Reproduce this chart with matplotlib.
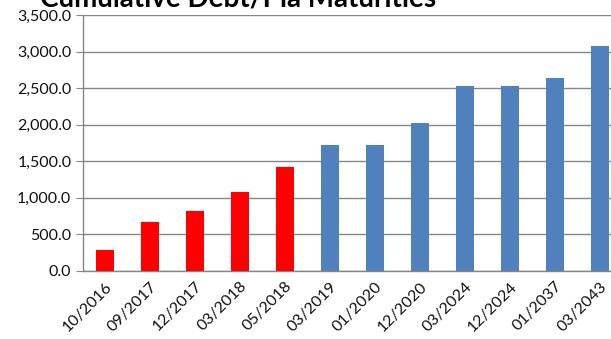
import matplotlib
matplotlib.use("Agg")
import matplotlib.pyplot as plt
from matplotlib.ticker import FuncFormatter

categories = ["10/2016", "09/2017", "12/2017", "03/2018", "05/2018", "03/2019",
              "01/2020", "12/2020", "03/2024", "12/2024", "01/2037", "03/2043"]
values = [290, 670, 820, 1080, 1420, 1720, 1720, 2020, 2525, 2530, 2640, 3075]
highlight = [True, True, True, True, True, False, False, False, False, False, False, False]

plt.rcParams['font.family'] = ['Lato', 'DejaVu Sans']

fig = plt.figure(figsize=(6.11, 3.39), dpi=100)
ax = fig.add_axes([82.5 / 611, 68 / 339, 540 / 611, 256 / 339])

colors = ["#FF0000" if h else "#4F81BD" for h in highlight]
x = range(len(categories))
ax.bar(x, values, width=0.4, color=colors, zorder=3)

ax.set_xlim(-0.5, len(categories) - 0.5)
ax.set_ylim(0, 3500)
ax.set_yticks(range(0, 3501, 500))
ax.yaxis.set_major_formatter(FuncFormatter(lambda v, p: f"{v:,.1f}"))
ax.set_xticks(list(x))
ax.set_xticklabels(categories, rotation=45, ha="right", rotation_mode="anchor")
ax.tick_params(axis="x", length=0, labelsize=11.5, pad=6, labelcolor="#111111")
ax.tick_params(axis="y", length=5, color="#868686", labelsize=11.5, pad=3, labelcolor="#111111")

ax.grid(axis="y", color="#868686", linewidth=1, zorder=0)
for s in ["top", "right"]:
    ax.spines[s].set_visible(False)
for s in ["left", "bottom"]:
    ax.spines[s].set_color("#868686")
    ax.spines[s].set_linewidth(1)

fig.text(238 / 611, 1 - 6 / 339, "Cumulative Debt/Pia Maturities", ha="center", va="baseline",
         fontsize=20, fontweight="bold")

fig.savefig("out.png", dpi=100)
